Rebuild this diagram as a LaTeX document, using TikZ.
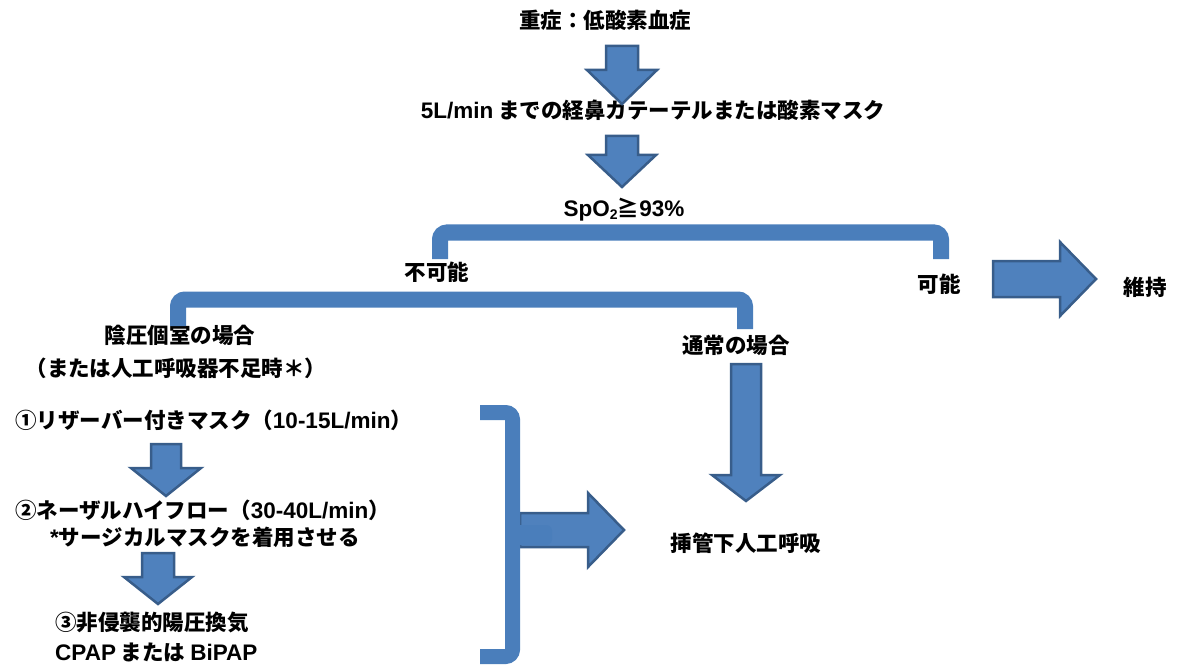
\documentclass[tikz,border=0pt]{standalone}
\usepackage{fontspec}
\setmainfont{Noto Sans CJK JP}
\newfontfamily\latfont{Liberation Sans}
\newcommand\LT[1]{{\latfont\fontsize{22.5}{25}\selectfont #1}}
\definecolor{afill}{HTML}{4F81BD}
\definecolor{aline}{HTML}{385D8A}
\definecolor{bcol}{HTML}{4A7EBB}
\tikzset{
  lbl/.style={font=\fontsize{21.5}{25}\selectfont\bfseries, inner sep=0pt, text=black},
  barrow/.style={fill=afill, draw=aline, line width=2.5pt, line join=miter},
  bracketline/.style={draw=bcol, line width=16pt, rounded corners=7pt},
}
% down block arrow: cx, top, headstart, tip, shaft half width, head half width
\newcommand\DownBlock[6]{%
  \draw[barrow] (#1-#5,#2) -- (#1+#5,#2) -- (#1+#5,#3) -- (#1+#6,#3) -- (#1,#4)
    -- (#1-#6,#3) -- (#1-#5,#3) -- cycle;}
% right block arrow: cy, left, headstart, tip, shaft half height, head half height
\newcommand\RightBlock[6]{%
  \draw[barrow] (#2,#1-#5) -- (#3,#1-#5) -- (#3,#1-#6) -- (#4,#1) -- (#3,#1+#6)
    -- (#3,#1+#5) -- (#2,#1+#5) -- cycle;}
\begin{document}
\begin{tikzpicture}[x=1pt,y=-1pt]
\useasboundingbox (0,0) rectangle (1179,666);

% texts
\node[lbl] (t1) at (605,20) {重症：低酸素血症};
\node[lbl] (t2) at (653,110) {\LT{5L/min} までの経鼻カテーテルまたは酸素マスク};
\node[lbl] (t3) at (624,210) {\LT{SpO\raisebox{-0.25ex}{\fontsize{14}{14}\selectfont 2}}≧\LT{93\%}};
\node[lbl] (ng) at (437,272) {不可能};
\node[lbl] (ok) at (939,284) {可能};
\node[lbl] (keep) at (1145,287) {維持};
\node[lbl] (neg1) at (180,335) {陰圧個室の場合};
\node[lbl] (neg2) at (176,368) {（または人工呼吸器不足時＊）};
\node[lbl] (norm) at (736,345) {通常の場合};
\node[lbl, anchor=west] (s1) at (15,420) {①リザーバー付きマスク（\LT{10-15L/min}）};
\node[lbl, anchor=west] (s2) at (15,510) {②ネーザルハイフロー（\LT{30-40L/min}）};
\node[lbl, anchor=west] (s2b) at (50,537) {\LT{*}サージカルマスクを着用させる};
\node[lbl, anchor=west] (s3) at (55,622) {③非侵襲的陽圧換気};
\node[lbl, anchor=west] (s3b) at (55,652) {\LT{CPAP} または \LT{BiPAP}};
\node[lbl] (intub) at (746,543) {挿管下人工呼吸};

% block arrows
\DownBlock{622}{46}{70}{104}{16}{35}
\DownBlock{622}{136}{155}{187}{16}{34}
\DownBlock{746}{364}{475}{501}{15}{34}
\DownBlock{166}{444}{468}{496}{15}{35}
\DownBlock{158}{553}{577}{604}{16}{34}
\RightBlock{279}{993}{1060}{1096}{18}{37}
\RightBlock{530}{520}{588}{624}{17}{37}

% brackets
\draw[bracketline] (440,259) -- (440,232.5) -- (941,232.5) -- (941,259);
\draw[bracketline] (178,326) -- (178,299.5) -- (745,299.5) -- (745,329);
\draw[bracketline, line width=15pt] (480,412.5) -- (512.5,412.5) -- (512.5,656.5) -- (480,656.5);
\fill[bcol, rounded corners=6pt] (508,525) rectangle (552,545);
\end{tikzpicture}
\end{document}
